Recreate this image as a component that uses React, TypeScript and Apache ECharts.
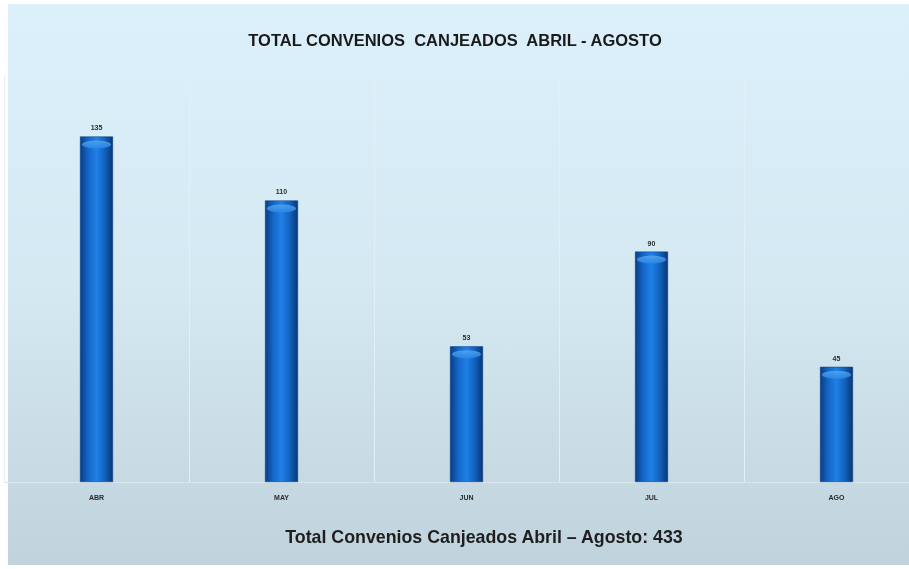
import React, { useEffect, useRef } from "react";
import * as echarts from "echarts";

const categories = ["ABR", "MAY", "JUN", "JUL", "AGO"];
const values = [135, 110, 53, 90, 45];
const titleText = "TOTAL CONVENIOS  CANJEADOS  ABRIL - AGOSTO";
const totalText = "Total Convenios Canjeados Abril – Agosto: 433";

export default function App() {
  const ref = useRef<HTMLDivElement>(null);
  useEffect(() => {
    if (!ref.current) return;
    const chart = echarts.init(ref.current, null, { renderer: "svg" });
    const barGrad = new echarts.graphic.LinearGradient(0, 0, 1, 0, [
      { offset: 0, color: "#0a3d86" },
      { offset: 0.25, color: "#1467c8" },
      { offset: 0.5, color: "#1f80e6" },
      { offset: 0.75, color: "#1262be" },
      { offset: 1, color: "#083676" },
    ]);
    chart.setOption({
      animation: false,
      graphic: [
        {
          type: "rect",
          shape: { x: 8, y: 4, width: 921, height: 561 },
          style: {
            fill: new echarts.graphic.LinearGradient(0, 0, 0, 1, [
              { offset: 0, color: "#dcf0fb" },
              { offset: 0.5, color: "#d5e9f3" },
              { offset: 1, color: "#c0d3dc" },
            ]),
          },
          z: -10,
          silent: true,
        },
        {
          type: "text",
          x: 455,
          y: 40,
          style: {
            text: titleText,
            font: "bold 16.5px 'Liberation Sans', Arial, sans-serif",
            fill: "#1a1a1a",
            align: "center",
            verticalAlign: "middle",
          },
        },
        {
          type: "text",
          x: 484,
          y: 537,
          style: {
            text: totalText,
            font: "bold 17.8px 'Liberation Sans', Arial, sans-serif",
            fill: "#1e1e1e",
            align: "center",
            verticalAlign: "middle",
          },
        },
      ],
      grid: { left: 4, right: 0, top: 75, bottom: 87, containLabel: false },
      xAxis: {
        type: "category",
        data: categories,
        axisLine: { show: true, lineStyle: { color: "#d9e6ec", width: 1 } },
        axisTick: { show: false },
        axisLabel: {
          color: "#2a2a2a",
          fontSize: 7,
          fontWeight: "bold",
          fontFamily: "'Liberation Sans', Arial, sans-serif",
          margin: 12,
        },
        splitLine: { show: true, lineStyle: { color: "#e3eff5", width: 1 } },
      },
      yAxis: {
        type: "value",
        min: 0,
        max: 159,
        show: false,
        splitLine: { show: false },
      },
      series: [
        {
          type: "bar",
          data: values,
          barWidth: 33,
          itemStyle: { color: barGrad, borderColor: "#0a3f86", borderWidth: 0.5 },
          label: {
            show: true,
            position: "top",
            distance: 5,
            fontSize: 7,
            fontWeight: "bold",
            color: "#2a2a2a",
            fontFamily: "'Liberation Sans', Arial, sans-serif",
          },
          z: 2,
        },
        {
          type: "pictorialBar",
          data: values,
          symbol: "circle",
          symbolSize: [29, 8],
          symbolPosition: "end",
          symbolOffset: [0, "50%"],
          itemStyle: {
            color: new echarts.graphic.LinearGradient(0, 0, 0, 1, [
              { offset: 0, color: "#5aa8f0" },
              { offset: 1, color: "#2a8ae8" },
            ]),
            opacity: 0.8,
          },
          z: 3,
          silent: true,
        },
      ],
    });
    return () => chart.dispose();
  }, []);
  return (
    <div style={{ position: "fixed", left: 0, top: 0, width: 909, height: 569, overflow: "hidden" }}>
      <div ref={ref} style={{ width: 929, height: 569 }} />
    </div>
  );
}
